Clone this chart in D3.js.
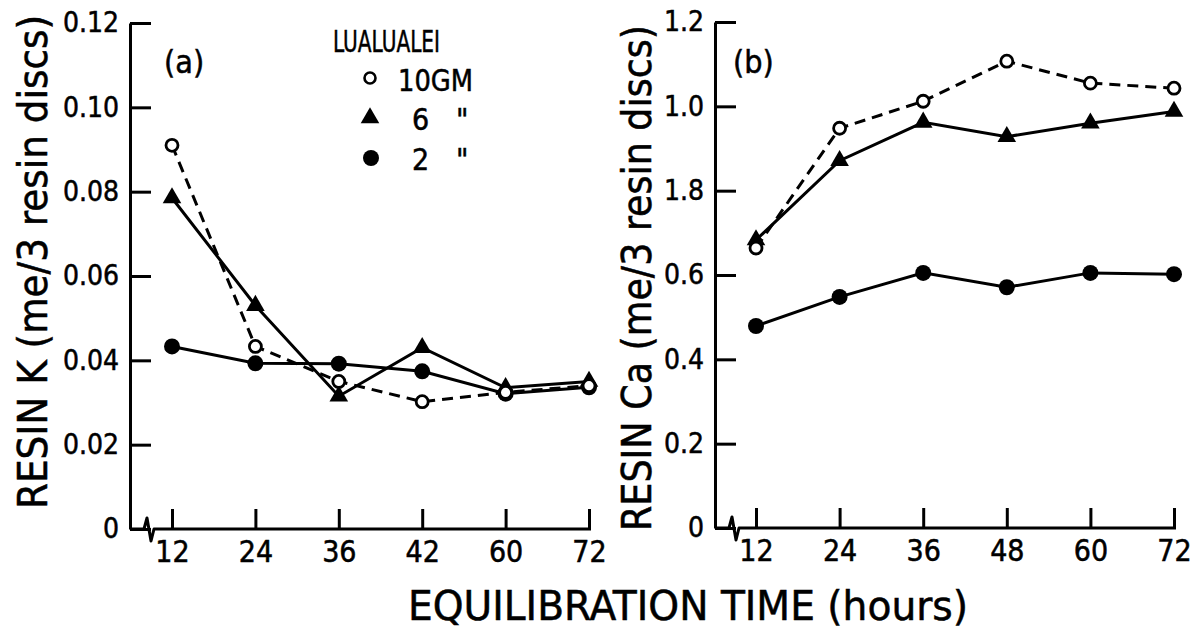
<!DOCTYPE html>
<html><head><meta charset="utf-8">
<script src="https://cdn.jsdelivr.net/npm/d3@7"></script>
<style>
html,body{margin:0;padding:0;background:#fff;}
svg text{font-family:"DejaVu Sans Condensed","Liberation Sans Narrow","DejaVu Sans",sans-serif;fill:#000;stroke:#000;stroke-width:0.5px;}
</style></head>
<body>
<svg id="chart" width="1196" height="630"></svg>
<script>
// ---- data ----
const timesA = ["12","24","36","42","60","72"];
const timesB = ["12","24","36","48","60","72"];
const seriesNames = ["10 GM","6 \"","2 \""];
const kGM10 = [0.091, 0.0433, 0.035, 0.0302, 0.0324, 0.034];
const kGM6  = [0.0785, 0.053, 0.0315, 0.043, 0.0335, 0.035];
const kGM2  = [0.0433, 0.0393, 0.0392, 0.0374, 0.0321, 0.0336];
const caGM10 = [0.664, 0.948, 1.012, 1.107, 1.055, 1.043];
const caGM6  = [0.683, 0.871, 0.962, 0.928, 0.960, 0.988];
const caGM2  = [0.479, 0.548, 0.605, 0.571, 0.605, 0.602];
const kTicks = [0, 0.02, 0.04, 0.06, 0.08, 0.10, 0.12];
const kTickLabels = ["0","0.02","0.04","0.06","0.08","0.10","0.12"];
const caTicks = [0, 0.2, 0.4, 0.6, 0.8, 1.0, 1.2];
const caTickLabels = ["0","0.2","0.4","0.6","1.8","1.0","1.2"];

const svg = d3.select("#chart");

function panel(opts){
  const g = svg.append("g");
  const x = d3.scalePoint().domain(opts.cats).range(opts.xr);
  const y = d3.scaleLinear().domain(opts.yd).range(opts.yr);
  const ax0 = opts.axisX;
  const y0 = y(0);
  // y axis
  const ya = d3.axisLeft(y).tickValues(opts.ticks)
     .tickFormat((d,i)=>opts.tickLabels[i]).tickSize(-21).tickSizeOuter(0).tickPadding(11);
  const yg = g.append("g").attr("transform",`translate(${ax0},0)`).call(ya);
  yg.select(".domain").attr("stroke","#000").attr("stroke-width",3);
  yg.selectAll(".tick line").attr("stroke","#000").attr("stroke-width",3);
  yg.selectAll(".tick text").attr("font-size",28);
  // x axis
  const xa = d3.axisBottom(x).tickSize(-20).tickPadding(12);
  const xg = g.append("g").attr("transform",`translate(0,${y0})`).call(xa);
  xg.select(".domain").remove();
  xg.selectAll(".tick line").attr("stroke","#000").attr("stroke-width",3);
  xg.selectAll(".tick text").attr("font-size",30).attr("dy","0.71em");
  // x axis baseline with break
  const xb = ax0 + 14;
  g.append("path")
    .attr("d",`M${ax0},${y0}H${xb}L${xb+3},${y0-11}L${xb+7},${y0+12}L${xb+10},${y0}H${opts.xr[1]+2}`)
    .attr("fill","none").attr("stroke","#000").attr("stroke-width",3).attr("stroke-linejoin","round");
  // series
  const line = d3.line().x((d,i)=>x(opts.cats[i])).y(d=>y(d));
  const styles = [
    {data:opts.s10, dash:"11,7", marker:"open"},
    {data:opts.s6, dash:null, marker:"tri"},
    {data:opts.s2, dash:null, marker:"dot"}
  ];
  styles.forEach(s=>{
    g.append("path").datum(s.data).attr("d",line)
      .attr("fill","none").attr("stroke","#000").attr("stroke-width",3)
      .attr("stroke-dasharray",s.dash);
  });
  styles.slice().reverse().forEach(s=>{
    const mg = g.append("g");
    s.data.forEach((v,i)=>{
      const cx = x(opts.cats[i]), cy = y(v);
      if(s.marker==="open"){
        mg.append("circle").attr("cx",cx).attr("cy",cy).attr("r",6)
          .attr("fill","#fff").attr("stroke","#000").attr("stroke-width",2.8);
      } else if(s.marker==="dot"){
        mg.append("circle").attr("cx",cx).attr("cy",cy).attr("r",8).attr("fill","#000");
      } else {
        mg.append("path").attr("d",d3.symbol(d3.symbolTriangle,150)())
          .attr("transform",`translate(${cx},${cy})`).attr("fill","#000");
      }
    });
  });
  // panel label
  g.append("text").attr("x",opts.labelPos[0]).attr("y",opts.labelPos[1])
    .attr("font-size",32).text(opts.label);
  // y title
  g.append("text").attr("transform",`translate(${opts.titlePos[0]},${opts.titlePos[1]}) rotate(-90)`)
    .attr("text-anchor","middle").attr("font-size",40)
    .attr("textLength",opts.titleLen).attr("lengthAdjust","spacingAndGlyphs")
    .text(opts.title);
  return {x,y};
}

panel({cats:timesA, xr:[172,589], yd:[0,0.12], yr:[529,23], axisX:130,
  ticks:kTicks, tickLabels:kTickLabels, s10:kGM10, s6:kGM6, s2:kGM2,
  label:"(a)", labelPos:[164,73], title:"RESIN K (me/3 resin discs)",
  titlePos:[47,262], titleLen:494});
panel({cats:timesB, xr:[756,1174], yd:[0,1.2], yr:[528,22], axisX:715,
  ticks:caTicks, tickLabels:caTickLabels, s10:caGM10, s6:caGM6, s2:caGM2,
  label:"(b)", labelPos:[733,73], title:"RESIN Ca (me/3 resin discs)",
  titlePos:[651,278], titleLen:506});

// x title
svg.append("text").attr("x",408).attr("y",620).attr("font-size",41)
  .attr("textLength",560).attr("lengthAdjust","spacingAndGlyphs")
  .text("EQUILIBRATION TIME (hours)");

// legend
const lg = svg.append("g");
lg.append("text").attr("x",333).attr("y",52).attr("font-size",31)
  .attr("textLength",107).attr("lengthAdjust","spacingAndGlyphs").text("LUALUALEI");
const legY = [78,118,158];
const legText = [["10GM",""],["6","\""],["2","\""]];
legY.forEach((ly,i)=>{
  if(i===0) lg.append("circle").attr("cx",370).attr("cy",ly).attr("r",5.5).attr("fill","#fff").attr("stroke","#000").attr("stroke-width",2.6);
  if(i===1) lg.append("path").attr("d",d3.symbol(d3.symbolTriangle,150)()).attr("transform",`translate(370,${ly})`).attr("fill","#000");
  if(i===2) lg.append("circle").attr("cx",371).attr("cy",ly).attr("r",8).attr("fill","#000");
  if(i===0){
    lg.append("text").attr("x",398).attr("y",ly+13).attr("font-size",30)
      .attr("textLength",75).attr("lengthAdjust","spacingAndGlyphs").text(legText[i][0]);
  } else {
    lg.append("text").attr("x",412).attr("y",ly+12).attr("font-size",30).text(legText[i][0]);
    lg.append("text").attr("x",456).attr("y",ly+12).attr("font-size",30).text(legText[i][1]);
  }
});
</script>
</body></html>
